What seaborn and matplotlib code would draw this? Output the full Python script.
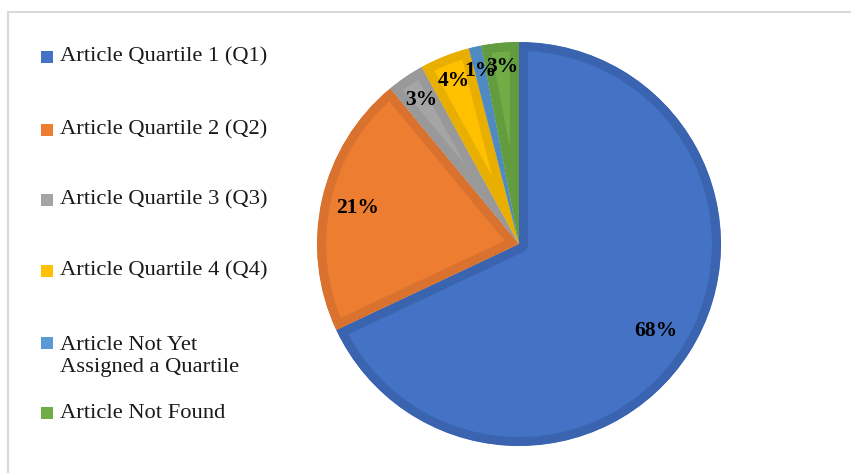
import matplotlib
matplotlib.use("Agg")
import matplotlib.pyplot as plt
from matplotlib.lines import Line2D
from matplotlib.patches import Rectangle, Wedge
import numpy as np
import seaborn as sns

# ---- data ----
categories = [
    "Article Quartile 1 (Q1)",
    "Article Quartile 2 (Q2)",
    "Article Quartile 3 (Q3)",
    "Article Quartile 4 (Q4)",
    "Article Not Yet\nAssigned a Quartile",
    "Article Not Found",
]
values = [68, 21, 3, 4, 1, 3]
pct_labels = ["68%", "21%", "3%", "4%", "1%", "3%"]

# ---- styles ----
fill_colors = ["#4472C4", "#ED7D31", "#A5A5A5", "#FFC000", "#5B9BD5", "#70AD47"]
edge_colors = ["#3B64B0", "#D8722E", "#999999", "#E8AE00", "#4F8AC2", "#639C3F"]
label_dist = [0.80, 0.82, 0.86, 0.87, 0.88, 0.88]
legend_y_px = [57, 130, 200, 271, 343, 413]

sns.set_theme(style="white")
plt.rcParams["font.family"] = ["Liberation Serif", "DejaVu Serif"]

W, H = 851, 473
fig = plt.figure(figsize=(W / 100, H / 100), dpi=100)
fig.patch.set_facecolor("white")

cx, cy, r = 519, 244, 202
half = 1.1 * r
ax = fig.add_axes([(cx - half) / W, (H - cy - half) / H, 2 * half / W, 2 * half / H])

wedges, _ = ax.pie(values, colors=fill_colors, startangle=90, counterclock=False,
                   radius=1, wedgeprops=dict(linewidth=13))
for w, ec in zip(wedges, edge_colors):
    w.set_edgecolor(ec)
    w.set_joinstyle("round")
    clip = Wedge(w.center, w.r, w.theta1, w.theta2, transform=ax.transData)
    w.set_clip_path(clip)
    w.set_clip_on(True)

for w, lab, d in zip(wedges, pct_labels, label_dist):
    ang = np.deg2rad((w.theta1 + w.theta2) / 2)
    ax.text(d * np.cos(ang), d * np.sin(ang), lab, ha="center", va="center",
            fontsize=15.5, fontweight="bold", color="black")

ax.set_xlim(-1.1, 1.1)
ax.set_ylim(-1.1, 1.1)
ax.set_aspect("equal")
ax.axis("off")

# legend (manual, Excel-like spacing)
fs_leg = 16.2
line_px = 27
for cat, col, y in zip(categories, fill_colors, legend_y_px):
    n = cat.count("\n") + 1
    yc = y + (n - 1) * line_px / 2
    fig.patches.append(Rectangle((41 / W, (H - y - 6) / H), 12 / W, 12 / H,
                                 transform=fig.transFigure, facecolor=col,
                                 edgecolor="none"))
    fig.text(60 / W, (H - yc) / H, cat, ha="left", va="center",
             fontsize=fs_leg, color="#1a1a1a", linespacing=1.15)

# chart frame lines
fig.add_artist(Line2D([8 / W, 1], [(H - 12) / H] * 2, transform=fig.transFigure,
                      color="#D9D9D9", linewidth=1.5))
fig.add_artist(Line2D([8 / W] * 2, [0, (H - 12) / H], transform=fig.transFigure,
                      color="#D9D9D9", linewidth=1.5))

fig.savefig("out.png", dpi=100, facecolor="white")
